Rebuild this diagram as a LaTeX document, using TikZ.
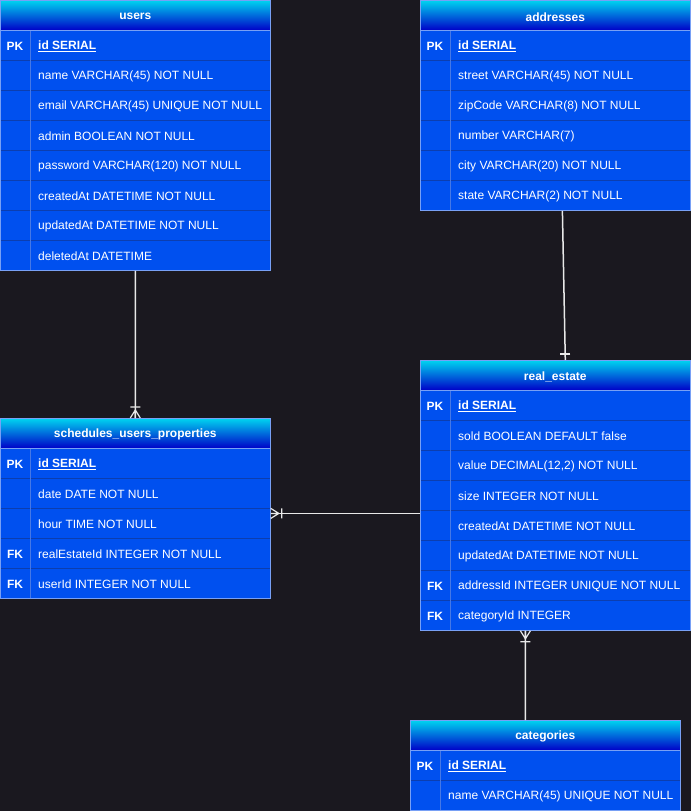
\documentclass[tikz,border=0pt]{standalone}
\usepackage{fontspec}
\setmainfont{Liberation Sans}
\usetikzlibrary{calc}
\definecolor{bgc}{RGB}{26,24,31}
\definecolor{rowblue}{RGB}{0,80,239}
\definecolor{sepc}{RGB}{12,62,175}
\definecolor{coldiv}{RGB}{70,120,230}
\definecolor{border}{RGB}{120,160,245}
\definecolor{hdtop}{RGB}{0,212,240}
\definecolor{hdbot}{RGB}{0,0,200}
\definecolor{linec}{RGB}{232,232,232}
\tikzset{
  hdr/.style={anchor=north west, minimum width=270pt, minimum height=30pt, inner sep=0pt,
    top color=hdtop, bottom color=hdbot, draw=border, line width=0.6pt, text=white,
    font=\fontsize{12}{14}\selectfont\bfseries},
  hdrtxt/.style={text=white, font=\fontsize{12}{14}\selectfont\bfseries, inner sep=0pt},
  rowbox/.style={anchor=north west, minimum width=270pt, minimum height=30pt, inner sep=0pt,
    fill=rowblue, draw=sepc, line width=0.8pt},
  keytxt/.style={text=white, font=\fontsize{12}{14}\selectfont\bfseries, inner sep=0pt},
  fldtxt/.style={text=white, font=\fontsize{12}{14}\selectfont, inner sep=0pt, anchor=west},
  conn/.style={draw=linec, line width=1.5pt},
  coldivline/.style={draw=coldiv, line width=0.8pt},
  outline/.style={draw=border, line width=0.8pt},
  crowfoot/.pic={\draw[draw=linec, line width=1.2pt] (-8,0)--(0,5) (-8,0)--(0,0) (-8,0)--(0,-5) (-11,-5)--(-11,5);},
  onebar/.pic={\draw[draw=linec, line width=1.2pt] (-6,-5)--(-6,5);}
}
\newcommand\ERhead[4]{%
  \node[hdr] (#1) at (#2,#3) {};
  \node[hdrtxt] (#1t) at ([yshift=-1.5pt]#1.center) {#4};
}
\newcommand\ERrow[5]{%
  \node[rowbox] (#1) at (#2,#3) {};
  \node[keytxt] (#1k) at ([xshift=15pt,yshift=-1.2pt]#1.west) {#4};
  \node[fldtxt] (#1f) at ([xshift=38pt,yshift=-1.2pt]#1.west) {#5};
}
\newcommand\ERframe[2]{%
  \draw[coldivline] ([xshift=30pt]#1.north west) -- ([xshift=30pt]#2.south west);
  \draw[outline] (#1.north west) rectangle (#2.south east);
}
\newcommand\idfield{\underline{\textbf{id SERIAL}}}
\begin{document}
\begin{tikzpicture}[x=1pt,y=-1pt]
\fill[bgc] (0,0) rectangle (691,811);
\useasboundingbox (0,0) rectangle (691,811);

% users
\ERhead{users}{0}{0}{users}
\ERrow{u1}{0}{30}{PK}{\idfield}
\ERrow{u2}{0}{60}{}{name VARCHAR(45) NOT NULL}
\ERrow{u3}{0}{90}{}{email VARCHAR(45) UNIQUE NOT NULL}
\ERrow{u4}{0}{120}{}{admin BOOLEAN NOT NULL}
\ERrow{u5}{0}{150}{}{password VARCHAR(120) NOT NULL}
\ERrow{u6}{0}{180}{}{createdAt DATETIME NOT NULL}
\ERrow{u7}{0}{210}{}{updatedAt DATETIME NOT NULL}
\ERrow{u8}{0}{240}{}{deletedAt DATETIME}
\ERframe{u1}{u8}

% addresses
\ERhead{addr}{420}{0}{addresses}
\ERrow{a1}{420}{30}{PK}{\idfield}
\ERrow{a2}{420}{60}{}{street VARCHAR(45) NOT NULL}
\ERrow{a3}{420}{90}{}{zipCode VARCHAR(8) NOT NULL}
\ERrow{a4}{420}{120}{}{number VARCHAR(7)}
\ERrow{a5}{420}{150}{}{city VARCHAR(20) NOT NULL}
\ERrow{a6}{420}{180}{}{state VARCHAR(2) NOT NULL}
\ERframe{a1}{a6}

% real_estate
\ERhead{re}{420}{360}{real\_estate}
\ERrow{r1}{420}{390}{PK}{\idfield}
\ERrow{r2}{420}{420}{}{sold BOOLEAN DEFAULT false}
\ERrow{r3}{420}{450}{}{value DECIMAL(12,2) NOT NULL}
\ERrow{r4}{420}{480}{}{size INTEGER NOT NULL}
\ERrow{r5}{420}{510}{}{createdAt DATETIME NOT NULL}
\ERrow{r6}{420}{540}{}{updatedAt DATETIME NOT NULL}
\ERrow{r7}{420}{570}{FK}{addressId INTEGER UNIQUE NOT NULL}
\ERrow{r8}{420}{600}{FK}{categoryId INTEGER}
\ERframe{r1}{r8}

% schedules_users_properties
\ERhead{sched}{0}{418}{schedules\_users\_properties}
\ERrow{s1}{0}{448}{PK}{\idfield}
\ERrow{s2}{0}{478}{}{date DATE NOT NULL}
\ERrow{s3}{0}{508}{}{hour TIME NOT NULL}
\ERrow{s4}{0}{538}{FK}{realEstateId INTEGER NOT NULL}
\ERrow{s5}{0}{568}{FK}{userId INTEGER NOT NULL}
\ERframe{s1}{s5}

% categories
\ERhead{cat}{410}{720}{categories}
\ERrow{c1}{410}{750}{PK}{\idfield}
\ERrow{c2}{410}{780}{}{name VARCHAR(45) UNIQUE NOT NULL}
\ERframe{c1}{c2}

% connectors
\draw[conn] (u8.south) -- (sched.north);
\pic[rotate=-90] at (sched.north) {crowfoot};

\coordinate (reL) at ([yshift=12pt]r5.west);
\coordinate (sR) at (reL -| s1.east);
\draw[conn] (reL) -- (sR);
\pic[rotate=180] at (sR) {crowfoot};

\coordinate (aB) at ([xshift=7pt]a6.south);
\coordinate (rT) at ([xshift=10pt]re.north);
\draw[conn] (aB) -- (rT);
\pic[rotate=-90] at (rT) {onebar};

\coordinate (cT) at ([xshift=-20pt]cat.north);
\coordinate (rB) at ([xshift=-30pt]r8.south);
\draw[conn] (cT) -- (rB);
\pic[rotate=90] at (rB) {crowfoot};
\end{tikzpicture}
\end{document}
